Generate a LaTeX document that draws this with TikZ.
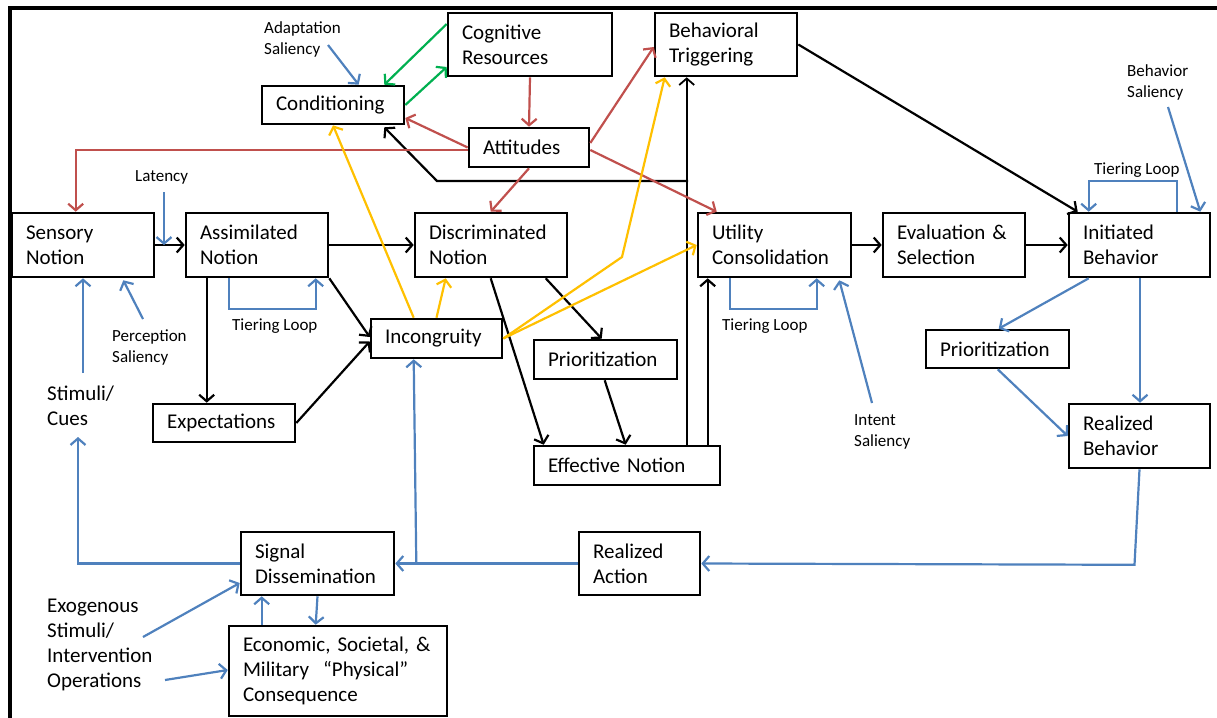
\documentclass[tikz,border=0pt]{standalone}
\usepackage{fontspec}
\setmainfont{Carlito}
\usetikzlibrary{arrows.meta,calc}
\definecolor{lnblue}{RGB}{79,129,189}
\definecolor{lnred}{RGB}{192,80,77}
\definecolor{lngreen}{RGB}{0,176,80}
\definecolor{lnyellow}{RGB}{255,192,0}

\begin{document}
\begin{tikzpicture}[x=1pt,y=-1pt,
  box/.style={draw, line width=2.6pt, inner xsep=14pt, inner ysep=0pt, align=left,
              font=\fontsize{21}{25}\selectfont},
  lbl/.style={inner sep=0pt, anchor=west, align=left, font=\fontsize{17}{21}\selectfont},
  biglbl/.style={inner sep=0pt, anchor=west, align=left, font=\fontsize{21}{25}\selectfont},
  con/.style={line width=2.2pt, -{Straight Barb[length=6.5pt,width=15pt]}},
  kcon/.style={con, draw=black},
  rcon/.style={con, draw=lnred},
  gcon/.style={con, draw=lngreen},
  ycon/.style={con, draw=lnyellow},
  bcon/.style={con, draw=lnblue},
]
\useasboundingbox (0,0) rectangle (1217,717);

% outer frame (left and top edges)
\draw[line width=3.2pt] (10,730) -- (10,8) -- (1230,8);

% ---------- boxes ----------
\node[box, minimum width=142pt, minimum height=64pt, text width=114pt] (sens)   at (83,245)     {Sensory\\Notion};
\node[box, minimum width=142pt, minimum height=64pt, text width=114pt] (assim)  at (257,245)    {Assimilated\\Notion};
\node[box, minimum width=152pt, minimum height=64pt, text width=124pt] (discr)  at (491,245)    {Discriminated\\Notion};
\node[box, minimum width=153pt, minimum height=64pt, text width=125pt] (util)   at (774.5,245)  {Utility\\Consolidation};
\node[box, minimum width=142pt, minimum height=64pt, text width=114pt] (evalsel) at (954,245)   {Evaluation~\&\\Selection};
\node[box, minimum width=141pt, minimum height=64pt, text width=113pt] (initb)  at (1139.5,245) {Initiated\\Behavior};
\node[box, minimum width=142pt, minimum height=38pt, text width=114pt] (cond)   at (333,105)    {Conditioning};
\node[box, minimum width=164pt, minimum height=63pt, text width=136pt] (cogres) at (530,44.5)   {Cognitive\\Resources};
\node[box, minimum width=142pt, minimum height=63pt, text width=114pt] (behtrig) at (726,44.5)  {Behavioral\\Triggering};
\node[box, minimum width=120pt, minimum height=39pt, text width=92pt]  (att)    at (529,147.5)  {Attitudes};
\node[box, minimum width=131pt, minimum height=39pt, text width=103pt] (incong) at (436.5,338.5) {Incongruity};
\node[box, minimum width=143pt, minimum height=39pt, text width=115pt] (prioa)  at (605.5,359.5) {Prioritization};
\node[box, minimum width=186pt, minimum height=39pt, text width=158pt] (effn)   at (627,465.5)  {Effective~Notion};
\node[box, minimum width=142pt, minimum height=38pt, text width=114pt] (expect) at (224,423)    {Expectations};
\node[box, minimum width=143pt, minimum height=38pt, text width=115pt] (priob)  at (997.5,349)  {Prioritization};
\node[box, minimum width=141pt, minimum height=64pt, text width=113pt] (realb)  at (1139.5,436) {Realized\\Behavior};
\node[box, minimum width=121pt, minimum height=63pt, text width=93pt]  (reala)  at (639.5,563.5) {Realized\\Action};
\node[box, minimum width=153pt, minimum height=63pt, text width=125pt] (signal) at (317.5,563.5) {Signal\\Dissemination};
\node[box, minimum width=218pt, minimum height=90pt, text width=190pt] (econ)   at (338,671)    {Economic,~Societal,~\&\\Military~~“Physical”\\Consequence};

% ---------- free labels ----------
\node[lbl] (adapt)  at (264,39.5)  {Adaptation\\Saliency};
\node[lbl] (lat)    at (135,177)   {Latency};
\node[lbl] (per)    at (112,347)   {Perception\\Saliency};
\node[lbl] (tiera)  at (232,326)   {Tiering Loop};
\node[lbl] (tierb)  at (722,326)   {Tiering Loop};
\node[lbl] (tierc)  at (1094,170)  {Tiering Loop};
\node[lbl] (intent) at (854,432)   {Intent\\Saliency};
\node[lbl] (behsal) at (1127,82.5) {Behavior\\Saliency};
\node[biglbl] (stim) at (47,405.5) {Stimuli/\\Cues};
\node[biglbl] (exo)  at (47,644.5) {Exogenous\\Stimuli/\\Intervention\\Operations};

% free ends and bends
\coordinate (adaptT) at (328,45);
\coordinate (latT)   at (164,192);
\coordinate (perT)   at (143,319);
\coordinate (stimT)  at (83,373);
\coordinate (stimH)  at (78,437);
\coordinate (intT)   at (872,403);
\coordinate (behT)   at (1168,107);
\coordinate (exoT)   at (143,637);
\coordinate (opT)    at (165,680);
\coordinate (ybend)  at (622,257);
\coordinate (jn)     at (688,181);
\coordinate (jbend)  at (437,181);

% ---------- black flow ----------
\draw[kcon] (sens.east) -- (assim.west);
\draw[kcon] (assim.east) -- (discr.west);
\draw[kcon] (util.east) -- (evalsel.west);
\draw[kcon] (evalsel.east) -- (initb.west);
\draw[kcon] (behtrig.east) -- ($(initb.north west)+(10,0)$);
\draw[kcon] ($(assim.south west)+(22,0)$) coordinate (ae) -- (ae |- expect.north);
\draw[kcon] (assim.south east) -- ($(incong.west)+(0,-1.5)$);
\draw[kcon] (expect.east) -- ($(incong.west)+(0,3)$);
\draw[kcon] ($(discr.south west)+(77,0)$) -- ($(effn.north west)+(11,0)$);
\draw[kcon] ($(discr.south west)+(132,0)$) -- ($(prioa.north west)+(69,0)$);
\draw[kcon] ($(prioa.south west)+(72,0)$) -- ($(effn.north west)+(93,0)$);
\draw[kcon, line width=1.8pt] ($(effn.north west)+(154,0)$) coordinate (ev) -- (ev |- behtrig.south);
\draw[kcon] (jn) -- (jbend) -- ($(cond.south east)+(-21,2)$);
\draw[kcon] ($(effn.north west)+(175,0)$) coordinate (eu) -- (eu |- util.south);

% ---------- red (attitudes) ----------
\draw[rcon] (cogres.south) -- (att.north);
\draw[rcon] (att.west) -- ($(cond.east)+(0,13)$);
\draw[rcon] ($(att.west)+(0,2.5)$) -| ($(sens.north west)+(65,0)$);
\draw[rcon] (att.south) -- ($(discr.north west)+(77,0)$);
\draw[rcon] ($(att.east)+(0,-4.5)$) -- ($(behtrig.west)+(0,2.5)$);
\draw[rcon] ($(att.east)+(0,2.5)$) -- ($(util.north west)+(20,0)$);

% ---------- green (cognitive resources) ----------
\draw[gcon] ($(cogres.west)+(0,-20.5)$) -- ($(cond.north east)+(-21,0)$);
\draw[gcon] (cond.east) -- ($(cogres.west)+(0,22.5)$);

% ---------- yellow (incongruity) ----------
\draw[ycon] ($(incong.north west)+(44,0)$) -- (cond.south);
\draw[ycon] (incong.north) -- ($(discr.south west)+(32,0)$);
\draw[ycon] (incong.east) -- (ybend) -- ($(behtrig.south west)+(11,0)$);
\draw[ycon] (incong.east) -- (util.west);

% ---------- blue (saliency, tiering, feedback) ----------
\draw[bcon] (adaptT) -- ($(cond.north west)+(98,0)$);
\draw[bcon] (latT) -- (latT |- sens.east);
\draw[bcon] (perT) -- ($(sens.south east)+(-32,2)$);
\draw[bcon] (stimT) -- (stimT |- sens.south);
\draw[bcon] (intT) -- ($(util.south east)+(-13,2)$);
\draw[bcon] (behT) -- ($(initb.north east)+(-11,0)$);
\draw[bcon] ($(assim.south west)+(44,0)$) -- ++(0,31) -| ($(assim.south west)+(131,0)$);
\draw[bcon] ($(util.south west)+(33,0)$) -- ++(0,31) -| ($(util.south west)+(120,0)$);
\draw[bcon] ($(initb.north west)+(109,0)$) -- ++(0,-31) -| ($(initb.north west)+(21,0)$);
\draw[bcon] ($(initb.south west)+(21,0)$) -- ($(priob.north west)+(74,0)$);
\draw[bcon] ($(initb.south)+(0.5,0)$) -- ($(realb.north)+(0.5,0)$);
\draw[bcon] ($(priob.south west)+(73,0)$) -- (realb.west);
\draw[bcon] (realb.south) -- ++(-5,95.5) -- (reala.east);
\draw[bcon] (reala.west) -- (signal.east);
\draw[bcon] ($(signal.east)+(21,0)$) -- ($(incong.south west)+(44,0)$);
\draw[bcon] (signal.west) -| (stimH);
\draw[bcon] (exoT) -- ($(signal.west)+(0,19.5)$);
\draw[bcon] (opT) -- ($(econ.west)+(0,-1)$);
\draw[bcon] ($(econ.north west)+(34,0)$) -- ($(signal.south west)+(22,0)$);
\draw[bcon] (signal.south) -- ($(econ.north west)+(88,0)$);
\end{tikzpicture}
\end{document}
